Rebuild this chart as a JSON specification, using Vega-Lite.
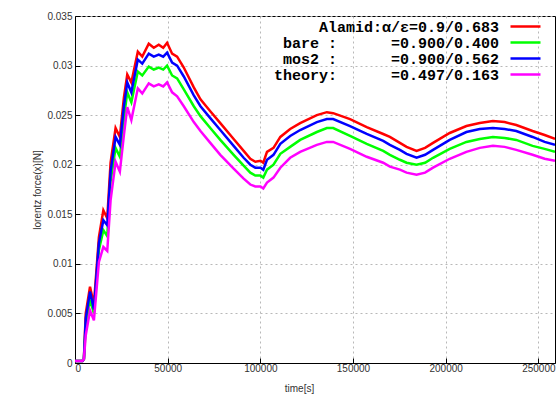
{
  "$schema": "https://vega.github.io/schema/vega-lite/v6.json",
  "width": 480,
  "height": 347,
  "autosize": {"type": "none"},
  "padding": {"left": 75, "top": 16, "right": 2, "bottom": 33},
  "background": "white",
  "config": {"view": {"stroke": "black", "strokeWidth": 1}, "font": "Liberation Sans"},
  "data": {"values": [
    {"t": 0, "A": 0.0002, "B": 0.0002, "C": 0.0002, "D": 0.0002},
    {"t": 4000, "A": 0.0002, "B": 0.0002, "C": 0.0002, "D": 0.0002},
    {"t": 4800, "A": 0.0004, "B": 0.0004, "C": 0.0004, "D": 0.0004},
    {"t": 5800, "A": 0.0050, "B": 0.0038, "C": 0.0045, "D": 0.0028},
    {"t": 8100, "A": 0.0077, "B": 0.0064, "C": 0.0072, "D": 0.0053},
    {"t": 10200, "A": 0.0059, "B": 0.0050, "C": 0.0054, "D": 0.0043},
    {"t": 12900, "A": 0.0127, "B": 0.0114, "C": 0.0121, "D": 0.0102},
    {"t": 15300, "A": 0.0154, "B": 0.0134, "C": 0.0144, "D": 0.0117},
    {"t": 17400, "A": 0.0146, "B": 0.0128, "C": 0.0139, "D": 0.0113},
    {"t": 19200, "A": 0.0202, "B": 0.0183, "C": 0.0193, "D": 0.0164},
    {"t": 21900, "A": 0.0237, "B": 0.0217, "C": 0.0228, "D": 0.0203},
    {"t": 24200, "A": 0.0228, "B": 0.0208, "C": 0.0220, "D": 0.0193},
    {"t": 26400, "A": 0.0268, "B": 0.0247, "C": 0.0259, "D": 0.0230},
    {"t": 28200, "A": 0.0291, "B": 0.0273, "C": 0.0283, "D": 0.0258},
    {"t": 30400, "A": 0.0283, "B": 0.0263, "C": 0.0273, "D": 0.0245},
    {"t": 33900, "A": 0.0314, "B": 0.0294, "C": 0.0306, "D": 0.0277},
    {"t": 36300, "A": 0.0309, "B": 0.0290, "C": 0.0302, "D": 0.0272},
    {"t": 39800, "A": 0.0322, "B": 0.0299, "C": 0.0312, "D": 0.0282},
    {"t": 42500, "A": 0.0318, "B": 0.0296, "C": 0.0309, "D": 0.0279},
    {"t": 45200, "A": 0.0321, "B": 0.0298, "C": 0.0311, "D": 0.0281},
    {"t": 47600, "A": 0.0318, "B": 0.0296, "C": 0.0309, "D": 0.0279},
    {"t": 49700, "A": 0.0323, "B": 0.0300, "C": 0.0313, "D": 0.0283},
    {"t": 52400, "A": 0.0312, "B": 0.0290, "C": 0.0303, "D": 0.0273},
    {"t": 55100, "A": 0.0309, "B": 0.0287, "C": 0.0300, "D": 0.0269},
    {"t": 58700, "A": 0.0298, "B": 0.0276, "C": 0.0289, "D": 0.0259},
    {"t": 64100, "A": 0.0278, "B": 0.0259, "C": 0.0270, "D": 0.0243},
    {"t": 67700, "A": 0.0266, "B": 0.0249, "C": 0.0259, "D": 0.0234},
    {"t": 73000, "A": 0.0254, "B": 0.0237, "C": 0.0247, "D": 0.0222},
    {"t": 78400, "A": 0.0242, "B": 0.0225, "C": 0.0235, "D": 0.0210},
    {"t": 85600, "A": 0.0226, "B": 0.0210, "C": 0.0219, "D": 0.0196},
    {"t": 91000, "A": 0.0214, "B": 0.0199, "C": 0.0207, "D": 0.0186},
    {"t": 94600, "A": 0.0206, "B": 0.0192, "C": 0.0200, "D": 0.0180},
    {"t": 97300, "A": 0.0203, "B": 0.0189, "C": 0.0197, "D": 0.0178},
    {"t": 100100, "A": 0.0204, "B": 0.0189, "C": 0.0197, "D": 0.0178},
    {"t": 101600, "A": 0.0202, "B": 0.0187, "C": 0.0195, "D": 0.0176},
    {"t": 103600, "A": 0.0213, "B": 0.0195, "C": 0.0205, "D": 0.0182},
    {"t": 107100, "A": 0.0217, "B": 0.0200, "C": 0.0210, "D": 0.0187},
    {"t": 110800, "A": 0.0228, "B": 0.0211, "C": 0.0221, "D": 0.0197},
    {"t": 116100, "A": 0.0236, "B": 0.0218, "C": 0.0229, "D": 0.0207},
    {"t": 121500, "A": 0.0242, "B": 0.0225, "C": 0.0235, "D": 0.0213},
    {"t": 130500, "A": 0.0250, "B": 0.0233, "C": 0.0243, "D": 0.0220},
    {"t": 135900, "A": 0.0253, "B": 0.0237, "C": 0.0246, "D": 0.0223},
    {"t": 139300, "A": 0.0252, "B": 0.0237, "C": 0.0246, "D": 0.0223},
    {"t": 148400, "A": 0.0246, "B": 0.0229, "C": 0.0239, "D": 0.0216},
    {"t": 157400, "A": 0.0238, "B": 0.0221, "C": 0.0231, "D": 0.0208},
    {"t": 166300, "A": 0.0231, "B": 0.0214, "C": 0.0224, "D": 0.0202},
    {"t": 169900, "A": 0.0228, "B": 0.0210, "C": 0.0220, "D": 0.0198},
    {"t": 175300, "A": 0.0222, "B": 0.0205, "C": 0.0215, "D": 0.0195},
    {"t": 178900, "A": 0.0218, "B": 0.0202, "C": 0.0211, "D": 0.0192},
    {"t": 184300, "A": 0.0214, "B": 0.0200, "C": 0.0207, "D": 0.0190},
    {"t": 188900, "A": 0.0217, "B": 0.0202, "C": 0.0210, "D": 0.0192},
    {"t": 193200, "A": 0.0222, "B": 0.0207, "C": 0.0215, "D": 0.0197},
    {"t": 202200, "A": 0.0232, "B": 0.0216, "C": 0.0225, "D": 0.0206},
    {"t": 211200, "A": 0.0239, "B": 0.0223, "C": 0.0233, "D": 0.0213},
    {"t": 218400, "A": 0.0242, "B": 0.0226, "C": 0.0236, "D": 0.0217},
    {"t": 225500, "A": 0.0244, "B": 0.0228, "C": 0.0237, "D": 0.0219},
    {"t": 231800, "A": 0.0243, "B": 0.0227, "C": 0.0236, "D": 0.0218},
    {"t": 238100, "A": 0.0240, "B": 0.0225, "C": 0.0234, "D": 0.0215},
    {"t": 246900, "A": 0.0234, "B": 0.0219, "C": 0.0228, "D": 0.0210},
    {"t": 253400, "A": 0.0230, "B": 0.0216, "C": 0.0223, "D": 0.0206},
    {"t": 259000, "A": 0.0226, "B": 0.0213, "C": 0.0220, "D": 0.0204}
  ]},
  "transform": [{"fold": ["A", "B", "C", "D"], "as": ["series", "force"]}],
  "mark": {"type": "line", "strokeWidth": 2.5, "clip": true},
  "encoding": {
    "x": {
      "field": "t", "type": "quantitative", "title": "time[s]",
      "scale": {"domain": [0, 259000], "nice": false, "zero": false},
      "axis": {
        "values": [0, 50000, 100000, 150000, 200000, 250000],
        "format": "d", "grid": true, "gridDash": [2, 3], "gridColor": "#b8b8b8",
        "tickSize": -5, "tickColor": "black", "domainColor": "black",
        "labelFontSize": 10, "labelColor": "#333333", "labelPadding": 5,
        "titleFontSize": 10, "titleFontWeight": "normal", "titleColor": "#333333",
        "titleX": 224, "titleY": 25, "titleBaseline": "middle"
      }
    },
    "y": {
      "field": "force", "type": "quantitative", "title": "lorentz force(x)[N]",
      "scale": {"domain": [0, 0.035], "nice": false},
      "axis": {
        "values": [0, 0.005, 0.01, 0.015, 0.02, 0.025, 0.03, 0.035],
        "format": ".3~f", "grid": true, "gridDash": [2, 3], "gridColor": "#b8b8b8",
        "tickSize": -5, "tickColor": "black", "domainColor": "black",
        "labelFontSize": 10, "labelColor": "#333333", "labelPadding": 8,
        "titleFontSize": 10, "titleFontWeight": "normal", "titleColor": "#333333",
        "titleX": -38, "titleBaseline": "middle"
      }
    },
    "color": {
      "field": "series", "type": "nominal",
      "scale": {"domain": ["A", "B", "C", "D"], "range": ["#ff0000", "#00ff00", "#0000ff", "#ff00ff"]},
      "legend": {
        "orient": "none", "legendX": 157, "legendY": 3, "title": null,
        "symbolType": "M-3,0H3", "symbolSize": 100, "symbolStrokeWidth": 2.5,
        "symbolOffset": 286, "labelOffset": -34, "labelAlign": "right",
        "labelFont": "Liberation Mono", "labelFontSize": 15, "labelFontWeight": "bold",
        "labelColor": "black", "labelLimit": 400, "rowPadding": -6,
        "labelExpr": "datum.value == 'A' ? 'Alamid:α/ε=0.9/0.683' : datum.value == 'B' ? 'bare :\u00a0\u00a0\u00a0\u00a0\u00a0\u00a0=0.900/0.400' : datum.value == 'C' ? 'mos2 :\u00a0\u00a0\u00a0\u00a0\u00a0\u00a0=0.900/0.562' : 'theory:\u00a0\u00a0\u00a0\u00a0\u00a0\u00a0=0.497/0.163'"
      }
    }
  }
}
